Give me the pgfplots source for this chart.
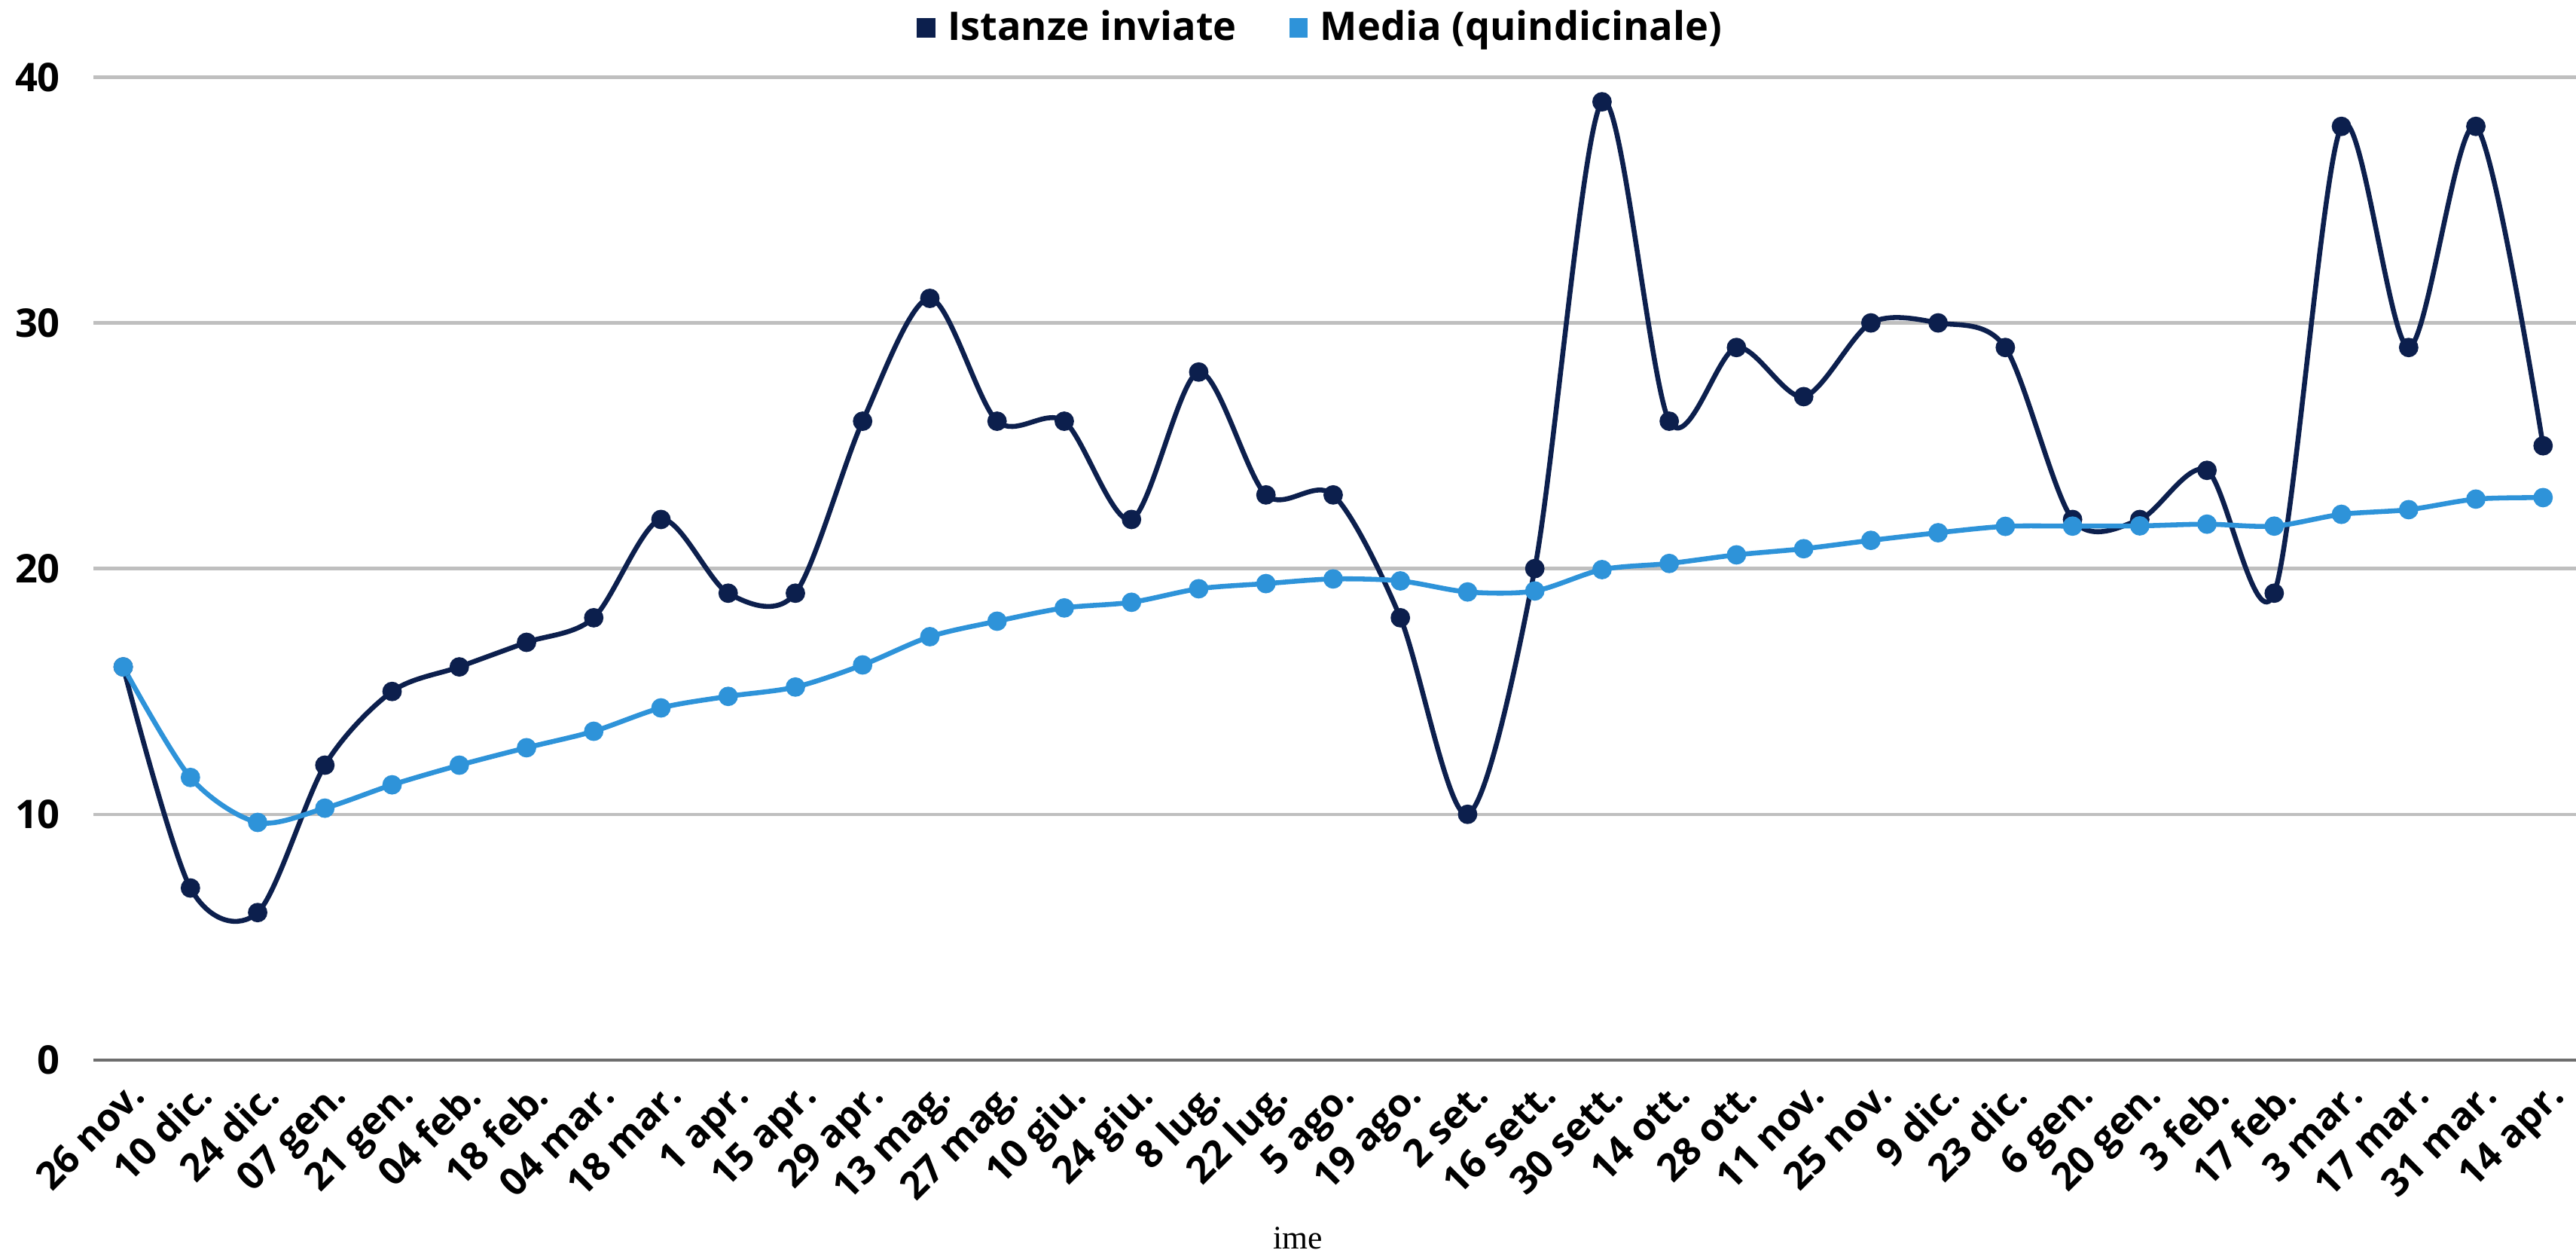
\documentclass[border=0pt]{standalone}
\usepackage{fontspec}
\setmainfont{Open Sans}
\newfontfamily\serifime{Liberation Serif}
\usepackage{pgfplots}
\pgfplotsset{compat=1.18}
\definecolor{darkser}{RGB}{12,31,77}
\definecolor{lightser}{RGB}{46,147,217}
\definecolor{gridc}{RGB}{191,191,191}
\definecolor{axisc}{RGB}{110,110,110}
\begin{document}
\begin{tikzpicture}
\begin{axis}[
  at={(0,0)}, anchor=south west,
  scale only axis,
  width=755.5pt, height=299pt,
  xmin=-0.44, xmax=36.49,
  ymin=0, ymax=40,
  clip=false,
  ytick={0,10,20,30,40},
  xtick={0,...,36},
  xticklabels={26 nov.,10 dic.,24 dic.,07 gen.,21 gen.,04 feb.,18 feb.,04 mar.,18 mar.,1 apr.,15 apr.,29 apr.,13 mag.,27 mag.,10 giu.,24 giu.,8 lug.,22 lug.,5 ago.,19 ago.,2 set.,16 sett.,30 sett.,14 ott.,28 ott.,11 nov.,25 nov.,9 dic.,23 dic.,6 gen.,20 gen.,3 feb.,17 feb.,3 mar.,17 mar.,31 mar.,14 apr.},
  /pgf/number format/assume math mode=true,
  axis x line*=bottom,
  axis y line*=left,
  x axis line style={draw=axisc, line width=1pt, -},
  y axis line style={draw=none},
  ymajorgrids,
  grid style={draw=gridc, line width=1pt},
  major tick length=0pt,
  yticklabel style={font=\fontsize{12}{14}\selectfont\bfseries, anchor=east, inner sep=0pt, xshift=-10pt},
  xticklabel style={font=\fontsize{11.7}{13}\selectfont\bfseries, rotate=45, anchor=north east, inner sep=0pt, yshift=-4.5pt, xshift=-3pt},
  legend style={at={(0.495,1)}, anchor=center, yshift=15pt, draw=none, fill=none,
    legend columns=2, font=\fontsize{12}{14}\selectfont\bfseries,
    /tikz/every even column/.append style={column sep=14pt},
    legend cell align=left, inner sep=0pt},
]
\addplot[color=darkser, line width=1.5pt, smooth, tension=0.5, mark=*, mark size=2.2pt,
  mark options={solid, fill=darkser, draw=darkser},
  legend image code/.code={\fill[darkser] (0pt,-2.3pt) rectangle (4.2pt,2.3pt); \path (6pt,0pt);}]
coordinates {
(0,16) (1,7) (2,6) (3,12) (4,15) (5,16) (6,17) (7,18) (8,22) (9,19) (10,19) (11,26) (12,31) (13,26) (14,26) (15,22) (16,28) (17,23) (18,23) (19,18) (20,10) (21,20) (22,39) (23,26) (24,29) (25,27) (26,30) (27,30) (28,29) (29,22) (30,22) (31,24) (32,19) (33,38) (34,29) (35,38) (36,25)
};
\addlegendentry{Istanze inviate}
\addplot[color=lightser, line width=1.5pt, smooth, tension=0.5, mark=*, mark size=2.2pt,
  mark options={solid, fill=lightser, draw=lightser},
  legend image code/.code={\fill[lightser] (0pt,-2.3pt) rectangle (4.2pt,2.3pt); \path (6pt,0pt);}]
coordinates {
(0,16) (1,11.5) (2,9.67) (3,10.25) (4,11.2) (5,12) (6,12.71) (7,13.38) (8,14.33) (9,14.8) (10,15.18) (11,16.08) (12,17.23) (13,17.86) (14,18.4) (15,18.63) (16,19.18) (17,19.39) (18,19.58) (19,19.5) (20,19.05) (21,19.09) (22,19.96) (23,20.21) (24,20.56) (25,20.81) (26,21.15) (27,21.46) (28,21.72) (29,21.73) (30,21.74) (31,21.81) (32,21.73) (33,22.21) (34,22.4) (35,22.83) (36,22.89)
};
\addlegendentry{Media (quindicinale)}
\node[font=\serifime\fontsize{10}{12}\selectfont, anchor=base] at ([yshift=-57.5pt]rel axis cs:0.485,0) {ime};
\end{axis}
\pgfresetboundingbox
\path[use as bounding box] (-28.5pt,-58.5pt) rectangle (755.5pt,322.5pt);
\end{tikzpicture}
\end{document}
